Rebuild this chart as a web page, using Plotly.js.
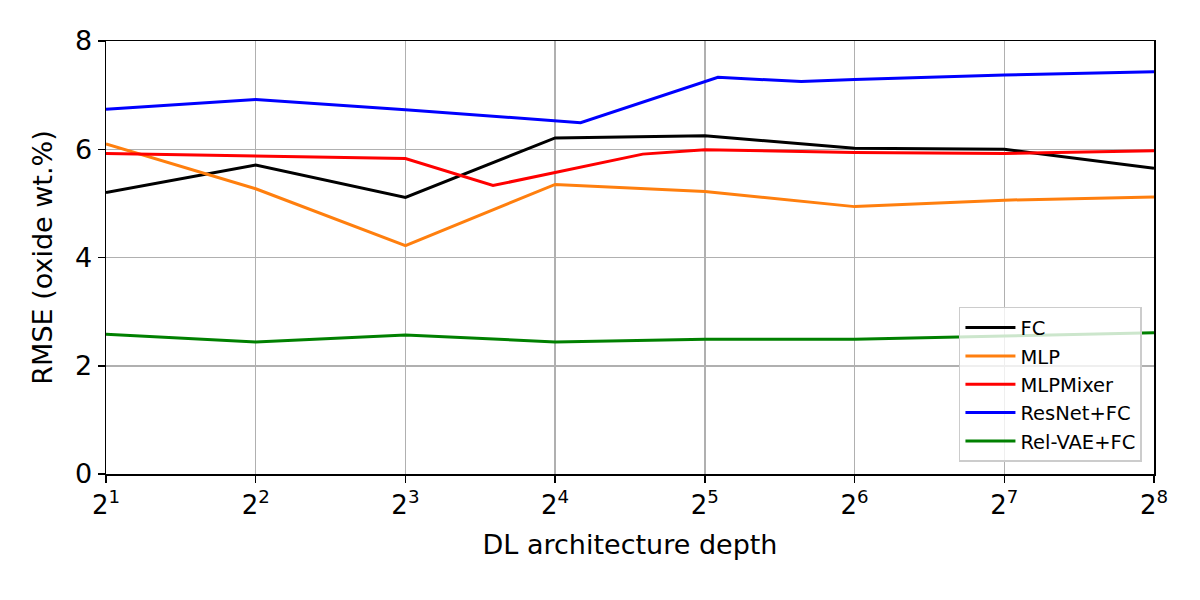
<!DOCTYPE html>
<html>
<head>
<meta charset="utf-8">
<script src="https://cdn.plot.ly/plotly-3.0.1.min.js"></script>
<style>html,body{margin:0;padding:0;background:#fff;}#chart{width:1200px;height:600px;}</style>
</head>
<body>
<div id="chart"></div>
<script>
// Data
const depthsBasic = [2, 4, 8, 16, 32, 64, 128, 256];
const fcRmse = [5.20, 5.71, 5.11, 6.21, 6.25, 6.02, 6.00, 5.65];
const mlpRmse = [6.10, 5.27, 4.22, 5.35, 5.22, 4.94, 5.06, 5.12];
const depthsMixer = [2, 4, 8, 12, 24, 32, 64, 128, 256];
const mixerRmse = [5.92, 5.88, 5.83, 5.33, 5.91, 5.99, 5.94, 5.92, 5.97];
const depthsResNet = [2, 4, 8, 18, 34, 50, 64, 128, 256];
const resnetRmse = [6.74, 6.92, 6.73, 6.49, 7.33, 7.25, 7.29, 7.37, 7.43];
const relVaeRmse = [2.58, 2.44, 2.57, 2.44, 2.49, 2.49, 2.55, 2.61];

const tickVals = [2, 4, 8, 16, 32, 64, 128, 256];
const tickText = ['2<sup>1</sup>', '2<sup>2</sup>', '2<sup>3</sup>', '2<sup>4</sup>', '2<sup>5</sup>', '2<sup>6</sup>', '2<sup>7</sup>', '2<sup>8</sup>'];

const mk = (x, y, name, color) => ({x, y, name, type: 'scatter', mode: 'lines', line: {color, width: 3}});

const traces = [
  mk(depthsBasic, fcRmse, 'FC', '#000000'),
  mk(depthsBasic, mlpRmse, 'MLP', '#ff7f0e'),
  mk(depthsMixer, mixerRmse, 'MLPMixer', '#ff0000'),
  mk(depthsResNet, resnetRmse, 'ResNet+FC', '#0000ff'),
  mk(depthsBasic, relVaeRmse, 'Rel-VAE+FC', '#008000')
];

const font = {family: 'DejaVu Sans', color: '#000'};
const layout = {
  width: 1200, height: 600,
  margin: {l: 106, r: 46, t: 41, b: 126},
  paper_bgcolor: '#fff', plot_bgcolor: '#fff',
  font: Object.assign({size: 22}, font),
  showlegend: true,
  xaxis: {
    type: 'log', range: [Math.log10(2), Math.log10(256)],
    tickvals: tickVals, ticktext: tickText,
    ticks: 'outside', ticklen: 7, tickwidth: 1.5, tickcolor: '#000',
    showline: true, linecolor: '#000', linewidth: 1.5, mirror: true,
    showgrid: true, gridcolor: '#b0b0b0', gridwidth: 1.5,
    zeroline: false,
    tickfont: Object.assign({size: 26}, font),
    title: {text: 'DL architecture depth', font: Object.assign({size: 27}, font), standoff: 16}
  },
  yaxis: {
    range: [0, 8], tickvals: [0, 2, 4, 6, 8],
    ticks: 'outside', ticklen: 7, tickwidth: 1.5, tickcolor: '#000',
    showline: true, linecolor: '#000', linewidth: 1.5, mirror: true,
    showgrid: true, gridcolor: '#b0b0b0', gridwidth: 1.5,
    zeroline: false,
    tickfont: Object.assign({size: 27}, font),
    title: {text: 'RMSE (oxide wt.%)', font: Object.assign({size: 27}, font), standoff: 14}
  },
  legend: {
    x: 0.9885, y: 0.028, xanchor: 'right', yanchor: 'bottom',
    bgcolor: 'rgba(255,255,255,0.8)', bordercolor: '#cccccc', borderwidth: 1.5,
    font: Object.assign({size: 19.5}, font),
    itemwidth: 50,
    tracegroupgap: 0
  }
};

Plotly.newPlot('chart', traces, layout, {staticPlot: true, displayModeBar: false});
</script>
</body>
</html>
